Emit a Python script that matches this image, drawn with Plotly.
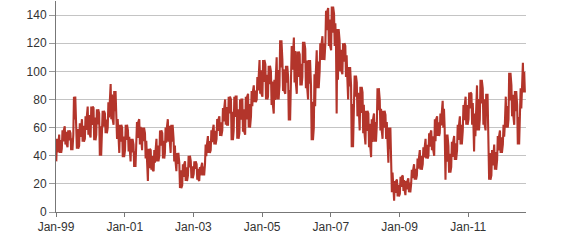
import plotly.graph_objects as go
import pandas as pd

# Monthly low / high envelope, Jan-1999 .. Aug-2012
month_low = [
    36, 42, 45, 48, 46, 44, 55, 45, 47, 50, 52, 55,      # 1999
    53, 51, 55, 40, 53, 56, 60, 66, 62, 52, 42, 39,      # 2000
    44, 43, 36, 32, 45, 48, 44, 38, 22, 30, 29, 36,      # 2001
    40, 38, 42, 50, 42, 36, 29, 17, 19, 22, 26, 24,      # 2002
    27, 23, 22, 26, 34, 42, 44, 48, 52, 54, 58, 62,      # 2003
    62, 51, 58, 52, 56, 57, 55, 60, 68, 78, 80, 84,      # 2004
    82, 80, 82, 76, 70, 80, 90, 86, 84, 65, 90, 92,      # 2005
    84, 90, 96, 88, 80, 51, 60, 88, 100, 108, 120, 118,  # 2006
    115, 118, 70, 100, 98, 96, 80, 46, 72, 68, 58, 56,   # 2007
    48, 46, 39, 50, 62, 58, 52, 52, 35, 14, 8, 11,       # 2008
    13, 15, 12, 14, 20, 23, 26, 30, 34, 38, 40, 44,      # 2009
    40, 54, 56, 60, 23, 28, 32, 37, 44, 48, 58, 62,      # 2010
    66, 62, 43, 58, 66, 62, 58, 23, 26, 30, 37, 42,      # 2011
    48, 60, 66, 68, 62, 48, 64, 85,                      # 2012
]
month_high = [
    52, 55, 58, 61, 58, 56, 82, 65, 63, 66, 68, 75,
    75, 74, 73, 70, 72, 70, 78, 91, 86, 72, 62, 60,
    62, 58, 52, 48, 64, 66, 60, 56, 45, 44, 44, 52,
    58, 56, 60, 66, 62, 52, 42, 35, 34, 36, 40, 36,
    36, 34, 32, 35, 48, 54, 58, 62, 66, 68, 74, 80,
    82, 80, 82, 82, 80, 80, 82, 84, 86, 90, 96, 108,
    108, 105, 104, 100, 94, 110, 122, 108, 104, 96, 118, 124,
    114, 112, 121, 116, 108, 90, 98, 115, 120, 125, 143, 145,
    146, 141, 130, 122, 120, 118, 103, 90, 97, 92, 89, 85,
    72, 70, 66, 70, 88, 80, 72, 69, 60, 34, 22, 23,
    25, 26, 22, 24, 30, 34, 38, 44, 46, 52, 56, 58,
    66, 68, 70, 79, 55, 47, 50, 54, 62, 68, 76, 82,
    85, 84, 70, 90, 94, 88, 84, 50, 44, 48, 54, 58,
    62, 82, 99, 90, 86, 76, 88, 106,
]

start = pd.Timestamp("1999-01-01")
dates, values = [], []
for i, (lo, hi) in enumerate(zip(month_low, month_high)):
    base = start + pd.DateOffset(months=i)
    if i % 2 == 0:
        pts = [(3, lo), (10, hi), (17, lo + (hi - lo) * 0.4), (24, hi)]
    else:
        pts = [(3, hi), (10, lo), (17, hi - (hi - lo) * 0.3), (24, lo)]
    for d, v in pts:
        dates.append(base + pd.Timedelta(days=d))
        values.append(v)

tick_years = [1999, 2001, 2003, 2005, 2007, 2009, 2011]
tick_vals = [pd.Timestamp(f"{y}-01-01") for y in tick_years]
tick_text = [f"Jan-{str(y)[2:]}" for y in tick_years]

fig = go.Figure()
fig.add_trace(go.Scatter(
    x=dates, y=values, mode="lines",
    line=dict(color="#b3352b", width=2.1),
    hoverinfo="skip", showlegend=False,
))

fig.update_layout(
    width=570, height=250,
    margin=dict(l=56, r=44, t=1, b=38),
    paper_bgcolor="white", plot_bgcolor="white",
    font=dict(family="Liberation Sans, Arial, sans-serif", size=12, color="#333333"),
    xaxis=dict(
        range=[pd.Timestamp("1999-01-01"), pd.Timestamp("2012-09-06")],
        tickvals=tick_vals, ticktext=tick_text,
        showgrid=False, showline=True, linecolor="#777777", linewidth=1,
        ticks="outside", ticklen=4, tickcolor="#777777",
        zeroline=False,
    ),
    yaxis=dict(
        range=[0, 150],
        tickvals=[0, 20, 40, 60, 80, 100, 120, 140],
        showgrid=True, gridcolor="#c4c4c4", gridwidth=1,
        showline=True, linecolor="#777777", linewidth=1,
        ticks="outside", ticklen=6, tickcolor="#999999",
        zeroline=False,
    ),
)

fig.write_html("out.html")
